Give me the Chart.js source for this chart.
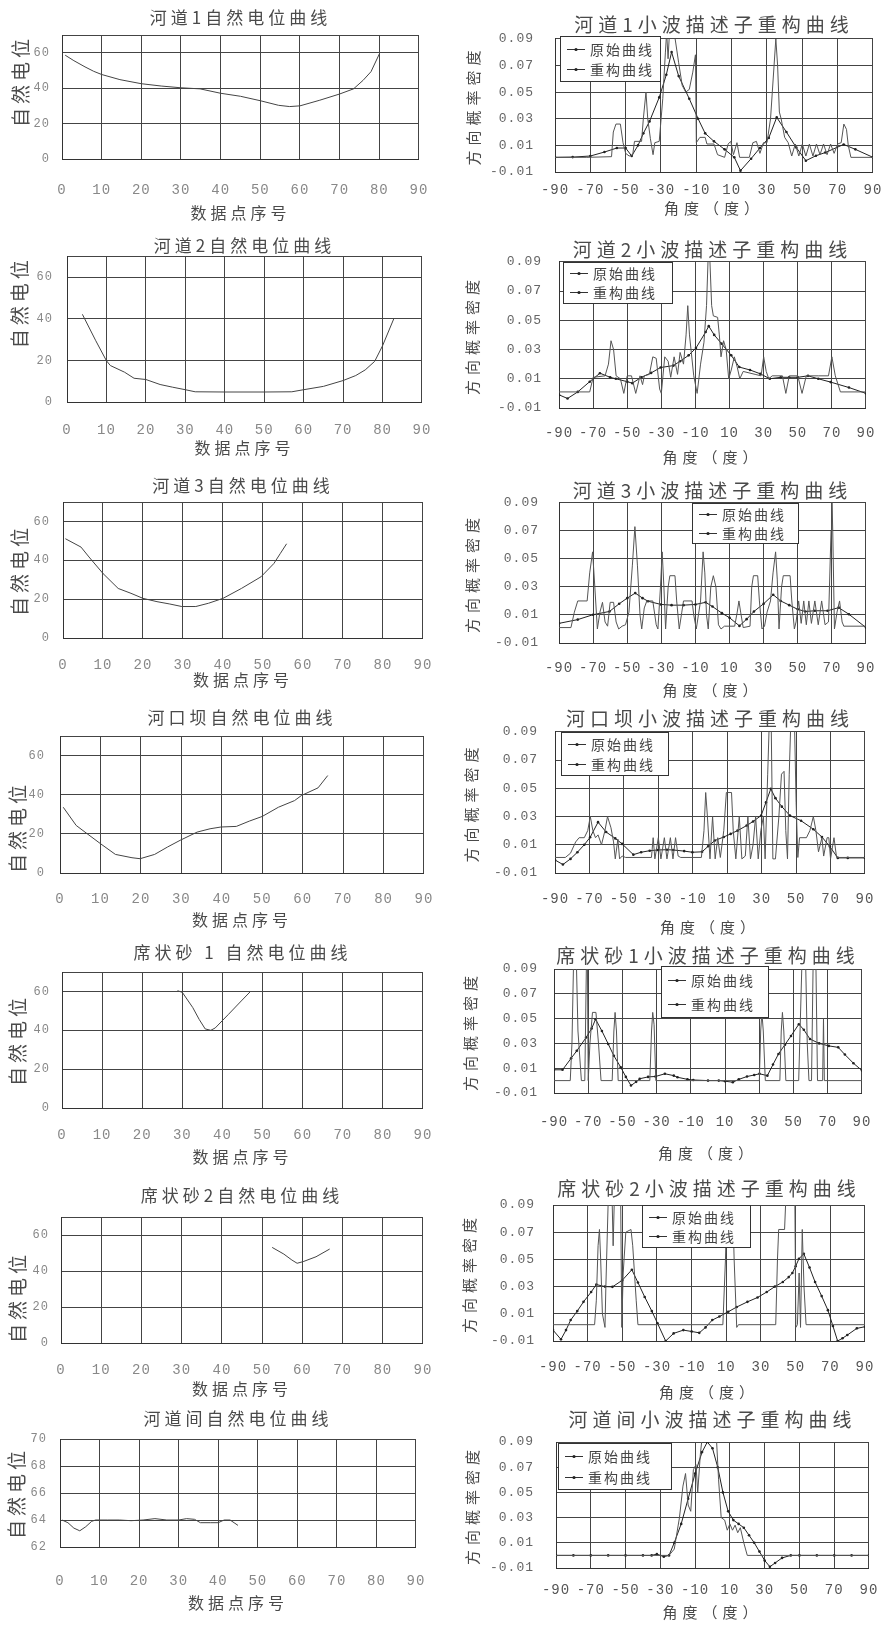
<!DOCTYPE html>
<html>
<head>
<meta charset="utf-8">
<script src="https://cdn.jsdelivr.net/npm/chart.js@4.4.1/dist/chart.umd.min.js"></script>
<style>
  html, body { margin: 0; padding: 0; background: #fff; }
  body { width: 891px; height: 1631px; position: relative; overflow: hidden; }
  canvas { position: absolute; }
</style>
</head>
<body>
<script>
const CJK = '"Noto Sans CJK SC", sans-serif';
const MONO = '"Liberation Mono", "DejaVu Sans Mono", monospace';

// ticks
const spXTicks = [0, 10, 20, 30, 40, 50, 60, 70, 80, 90];
const spXLabels = ['0', '10', '20', '30', '40', '50', '60', '70', '80', '90'];
const spYTicks = [0, 20, 40, 60, 70];
const spYLabels = ['0', '20', '40', '60', ''];
const sp7YTicks = [62, 64, 66, 68, 70];
const sp7YLabels = ['62', '64', '66', '68', '70'];
const angTicks = [-90, -70, -50, -30, -10, 10, 30, 50, 70, 90];
const angLabels = ['-90', '-70', '-50', '-30', '-10', '10', '30', '50', '70', '90'];
const denTicks = [-0.01, 0.01, 0.03, 0.05, 0.07, 0.09];
const denLabels = ['-0.01', '0.01', '0.03', '0.05', '0.07', '0.09'];

// texts
const leftTitles = ['河道1自然电位曲线', '河道2自然电位曲线', '河道3自然电位曲线', '河口坝自然电位曲线',
  '席状砂 1 自然电位曲线', '席状砂2自然电位曲线', '河道间自然电位曲线'];
const rightTitles = ['河道1小波描述子重构曲线', '河道2小波描述子重构曲线', '河道3小波描述子重构曲线',
  '河口坝小波描述子重构曲线', '席状砂1小波描述子重构曲线', '席状砂2小波描述子重构曲线', '河道间小波描述子重构曲线'];
const seriesNames = ['原始曲线', '重构曲线'];
const spYTitle = '自然电位', spXTitle = '数据点序号';
const denYTitle = '方向概率密度', angXTitle = '角度（度）';

// 自然电位曲线 (数据点序号, 自然电位)
const sp1 = [[0.8,58.6],[3,55.5],[5.8,52],[8,49.5],[10,47.7],[14.6,44.8],[20,42.5],[25,41.2],[30,40.2],[34.8,39.6],[40,37.1],[45,35.4],[50,32.9],[54.6,30.3],[57.4,29.6],[60,30],[65,33.2],[70,36.7],[73.5,39.6],[75.9,44.4],[77.9,49.3],[80,59.3]];
const sp2 = [[3.9,42.1],[7.3,29.4],[10,19.8],[11,17.5],[14.6,14.3],[17,11.4],[20,10.8],[23.6,8.4],[26.8,7.1],[30,5.9],[32.5,4.9],[40,4.8],[50,4.8],[57,4.9],[60,5.9],[65,7.5],[70,10.3],[73.2,12.7],[75.6,15.4],[78,19.5],[80,27],[82.9,40.2]];
const sp3 = [[0.6,51.1],[4.5,46.8],[6.5,41.7],[10,33.2],[13.8,25.5],[17,23],[20,20.4],[23.5,18.7],[26.7,17.5],[29.7,16.2],[33.2,16.2],[36.4,17.9],[40,20.4],[44.6,25.5],[49.5,31.5],[52.7,38.3],[54.3,43.4],[55.9,48.5]];
const sp4 = [[0.8,33.6],[4,24.3],[6.5,20.4],[10,15],[13.7,9.5],[17.8,7.8],[19.8,7.3],[23.4,9.5],[26.6,13.3],[29.7,16.7],[33.9,20.9],[37.1,22.6],[39.8,23.5],[43.6,23.8],[46.8,26.5],[50,28.9],[54,33.6],[58,37],[59.7,39.6],[63.8,43.5],[66.2,49.8]];
const sp5 = [[28.8,60.4],[30,59.5],[32.6,51.7],[34.2,45.6],[35.7,40.7],[37.1,40],[38.2,41.2],[41.5,48.2],[44.7,55.1],[46.9,59.8]];
const sp6 = [[52.5,53.1],[55.4,49.4],[57.4,46.1],[58.7,44.3],[60.2,45.2],[63.4,47.9],[66.8,52.2]];
const sp7 = [[0.5,64.0],[2,63.8],[3.5,63.4],[5,63.2],[6.5,63.5],[8,63.9],[9,64.0],[12,64.0],[15,64.0],[18,63.95],[21,64.0],[24,64.1],[27,64.0],[30,64.0],[32,64.1],[34,64.05],[35.5,63.8],[38,63.8],[40,63.8],[41.5,64.0],[43,64.0],[44,63.8],[45,63.6]];

// 小波描述子 原始曲线 (角度, 方向概率密度)
const raw1 = [[-90,0.001],[-72,0.001],[-58,0.0015],[-57,0.02],[-55.5,0.026],[-53,0.026],[-51.5,0.012],[-50,0.004],[-48,0.002],[-46,0.003],[-45,0.013],[-41,0.013],[-40,0.03],[-38.5,0.05],[-37.5,0.03],[-36,0.015],[-34.5,0.003],[-33.5,0.012],[-31,0.013],[-29,0.045],[-27.5,0.08],[-26.8,0.095],[-26,0.075],[-25.2,0.095],[-24,0.1],[-22,0.09],[-20,0.072],[-18,0.055],[-16,0.05],[-14,0.052],[-12,0.065],[-10.5,0.078],[-10,0.012],[-8,0.016],[-5,0.016],[-4,0.011],[0,0.011],[2,0.003],[6,0.001],[8,0.011],[9.5,0.013],[11,0.003],[13,0.012],[14.5,0.001],[20,0.001],[22,0.012],[24,0.013],[26,0.004],[28,0.012],[30,0.012],[32,0.03],[34,0.07],[35,0.09],[36,0.07],[37,0.035],[38,0.03],[40,0.016],[42,0.012],[44,0.002],[46,0.011],[48,0.002],[50,0.011],[52,0.002],[54,0.011],[56,0.002],[58,0.011],[60,0.003],[62,0.011],[64,0.003],[66,0.011],[68,0.004],[70,0.011],[72,0.012],[73.5,0.026],[75,0.022],[76,0.01],[77.5,0.001],[90,0.001]];
const raw2 = [[-90,0.001],[-72,0.001],[-70,0.011],[-63,0.012],[-61,0.02],[-59.5,0.036],[-58,0.03],[-56.5,0.012],[-54,0.01],[-52,0.0],[-50,0.012],[-47.5,0.012],[-45,0.0],[-42.5,0.012],[-41,0.006],[-40,0.012],[-37,0.013],[-35,0.025],[-33,0.024],[-31,0.003],[-30,0.0],[-28,0.025],[-26,0.022],[-24.5,0.011],[-22.5,0.025],[-20.5,0.013],[-19,0.028],[-17,0.02],[-15.5,0.04],[-14.5,0.06],[-13.5,0.04],[-11,0.012],[-9,0.0],[-7,0.02],[-5,0.035],[-3.5,0.06],[-2.5,0.095],[-1.5,0.09],[-0.5,0.06],[0.5,0.053],[3,0.052],[4,0.04],[5,0.025],[6.5,0.036],[8,0.03],[9.5,0.01],[11,0.016],[12.8,0.025],[14.5,0.018],[16,0.01],[18,0.015],[25,0.013],[28.5,0.012],[30,0.025],[31.5,0.015],[33,0.01],[35,0.012],[41,0.012],[43,0.0],[45,0.012],[50,0.012],[52.5,0.0],[55,0.012],[62,0.012],[68,0.012],[70,0.025],[72,0.012],[75,0.001],[90,0.001]];
const raw3 = [[-90,0.001],[-83,0.001],[-81,0.012],[-79,0.02],[-73.5,0.02],[-72,0.04],[-70.3,0.055],[-69,0.03],[-67.5,0.0],[-66,0.012],[-64.5,0.019],[-63,0.005],[-61.5,0.002],[-60,0.019],[-58,0.019],[-56.5,0.005],[-55,0.0],[-53,0.002],[-51,0.003],[-49,0.012],[-47,0.045],[-45.5,0.073],[-44,0.045],[-42.5,0.01],[-41.5,0.0],[-40,0.015],[-38.5,0.02],[-35,0.02],[-33,0.003],[-32,0.0],[-30.5,0.03],[-29.5,0.055],[-28.5,0.03],[-27.5,0.0],[-26,0.03],[-25,0.038],[-22,0.038],[-21,0.02],[-19.5,0.0],[-18,0.012],[-17,0.02],[-12,0.02],[-11,0.01],[-9.5,0.0],[-7,0.02],[-5.5,0.055],[-4.5,0.04],[-3.5,0.01],[-2.5,0.0],[-1,0.03],[0.5,0.038],[2,0.03],[3.5,0.003],[5,0.0],[7,0.002],[13,0.002],[14.5,0.012],[15.5,0.02],[16.5,0.012],[18,0.001],[22,0.002],[23,0.03],[24,0.038],[26.5,0.038],[27.5,0.02],[29,0.0],[30.5,0.002],[32,0.012],[34,0.02],[35.5,0.04],[37,0.055],[38,0.035],[39,0.0],[40.5,0.03],[41.5,0.038],[45.5,0.038],[46.5,0.02],[48,0.0],[49,0.005],[50.5,0.02],[52,0.004],[53.5,0.02],[55,0.003],[56.5,0.02],[58,0.004],[60,0.02],[62,0.003],[64,0.02],[66,0.003],[68,0.005],[69.5,0.07],[70,0.095],[70.5,0.07],[71.5,0.0],[73,0.012],[74.5,0.02],[76,0.005],[77,0.002],[90,0.002]];
const raw4 = [[-90,0.001],[-84,0.001],[-81,0.004],[-78,0.012],[-76,0.015],[-73,0.015],[-71,0.02],[-69.5,0.03],[-68,0.02],[-66.5,0.015],[-65,0.017],[-63,0.01],[-61,0.02],[-59.5,0.03],[-57.5,0.022],[-56,0.012],[-55,0.0],[-53.5,0.014],[-52.5,0.0],[-51,0.002],[-49,0.001],[-34,0.001],[-33,0.015],[-32,0.0],[-30,0.015],[-28.5,0.0],[-26.5,0.015],[-25,0.0],[-23,0.015],[-21.5,0.0],[-20,0.015],[-18.5,0.002],[-17,0.001],[-5,0.001],[-3.5,0.02],[-2.5,0.047],[-1.5,0.03],[0,0.0],[1.5,0.03],[3,0.0],[4.5,0.015],[6,0.001],[8,0.02],[9.5,0.047],[12.5,0.047],[13.5,0.02],[15,0.0],[17,0.03],[18.5,0.0],[20.5,0.002],[22,0.03],[23.5,0.0],[25,0.01],[26.5,0.03],[28,0.0],[29.5,0.02],[31,0.03],[32,0.0],[33.5,0.06],[34.5,0.1],[35.5,0.1],[36.5,0.0],[38,0.0],[40,0.03],[41.5,0.06],[43,0.062],[44,0.02],[45,0.0],[46,0.06],[47,0.1],[49,0.1],[50,0.04],[51,0.001],[52,0.015],[56,0.015],[58,0.02],[60,0.03],[61.5,0.02],[63,0.005],[65,0.015],[66,0.002],[68,0.015],[69,0.015],[70,0.0],[72,0.015],[73.5,0.001],[90,0.001]];
const raw5 = [[-90,0.0],[-80.5,0.0],[-79.5,0.03],[-78.5,0.1],[-77,0.1],[-76,0.04],[-74,0.0],[-72,0.0],[-71,0.1],[-70.5,0.1],[-70,0.0],[-69,0.03],[-67.5,0.055],[-65.5,0.055],[-64,0.03],[-62.5,0.0],[-56,0.0],[-55,0.04],[-54.3,0.055],[-53.5,0.04],[-52.5,0.0],[-34,0.0],[-33,0.04],[-32.3,0.055],[-31.5,0.045],[-30.5,0.0],[30,0.0],[30.8,0.04],[31.5,0.055],[32.3,0.04],[33.5,0.0],[42,0.0],[42.8,0.04],[43.5,0.055],[44.3,0.04],[45.5,0.0],[53,0.0],[54,0.05],[55,0.1],[57,0.1],[58,0.03],[59,0.0],[60.5,0.0],[61.5,0.1],[63,0.1],[64,0.0],[67,0.0],[67.5,0.05],[68,0.0],[90,0.0]];
const raw6 = [[-90,0.002],[-66,0.002],[-65,0.02],[-64,0.06],[-63.2,0.072],[-62.5,0.05],[-61.5,0.01],[-60,0.0],[-59.5,0.03],[-58,0.1],[-56,0.1],[-55.3,0.06],[-54.5,0.1],[-51,0.1],[-50.3,0.0],[-49.5,0.04],[-48,0.07],[-45,0.072],[-44,0.06],[-42,0.02],[-41,0.002],[8,0.002],[9.5,0.05],[10.5,0.1],[13.5,0.1],[14.5,0.05],[16,0.0],[17,0.002],[38.5,0.002],[39.5,0.05],[40.2,0.072],[43.6,0.072],[44.5,0.1],[49.5,0.1],[50.1,0.0],[51,0.002],[52,0.04],[52.8,0.0],[53.8,0.072],[54.8,0.03],[56,0.002],[90,0.002]];
const raw7 = [[-90,0.0],[-25,0.0],[-22,0.005],[-19,0.03],[-17,0.055],[-15.5,0.065],[-14,0.04],[-12.5,0.035],[-11,0.068],[-9.5,0.072],[-8.5,0.05],[-7,0.08],[-5.5,0.1],[-2,0.1],[0,0.1],[2,0.1],[3.5,0.06],[5,0.03],[7,0.028],[8.5,0.02],[10,0.025],[11.5,0.02],[13,0.024],[14.5,0.018],[16,0.022],[18,0.01],[20,0.0],[90,0.0]];

// 小波描述子 重构曲线 (角度, 方向概率密度)
const rec1 = [[-90,0.001],[-80,0.0012],[-70,0.002],[-62,0.005],[-55,0.008],[-50,0.008],[-46.6,0.002],[-43,0.01],[-40,0.019],[-36.5,0.028],[-31,0.046],[-27,0.063],[-24,0.08],[-20,0.062],[-14,0.045],[-9,0.03],[-5,0.019],[0,0.013],[6,0.007],[11.5,0.001],[15,-0.009],[21,0.0],[26,0.008],[31,0.0156],[35.5,0.031],[41,0.02],[46.6,0.0083],[52,-0.0015],[57.7,0.0022],[63,0.0046],[73.4,0.0107],[80,0.007],[90,0.001]];
const rec2 = [[-90,-0.001],[-85,-0.0035],[-79,0.001],[-72,0.008],[-66,0.0138],[-60,0.011],[-56.7,0.01],[-50,0.008],[-47,0.007],[-41.7,0.011],[-36,0.014],[-30.4,0.0177],[-22.9,0.019],[-19,0.022],[-14,0.026],[-9.7,0.031],[-4,0.042],[-2.2,0.046],[1,0.04],[5.3,0.034],[11,0.026],[15.7,0.018],[22,0.016],[28,0.0134],[33.6,0.01],[40,0.011],[44.9,0.011],[50,0.011],[56,0.012],[62,0.01],[69.3,0.0077],[80,0.004],[90,0.0]];
const rec3 = [[-90,0.004],[-79,0.0067],[-70,0.0102],[-60.4,0.0125],[-54.7,0.018],[-50,0.022],[-45.3,0.0256],[-41,0.022],[-37.8,0.0198],[-30.2,0.0175],[-24,0.017],[-17,0.017],[-10,0.0175],[-4,0.019],[0,0.016],[5.5,0.0113],[10,0.008],[15.8,0.0022],[20,0.007],[24.3,0.0125],[30,0.018],[35.6,0.0244],[40,0.02],[45,0.017],[50,0.014],[54.4,0.0125],[60,0.013],[67.5,0.013],[74,0.0152],[80,0.0105],[90,0.001]];
const rec4 = [[-90,-0.0008],[-85.4,-0.004],[-81,0.0],[-77,0.0047],[-73,0.01],[-69.6,0.0153],[-65,0.026],[-60.3,0.019],[-55,0.0145],[-51,0.0106],[-44.5,0.003],[-40,0.0047],[-35,0.0058],[-30.6,0.0063],[-25,0.0065],[-21.3,0.0063],[-15,0.0055],[-10.2,0.0047],[-4.6,0.005],[-1,0.009],[2.8,0.013],[8,0.0155],[12,0.0177],[16,0.02],[21.3,0.0236],[25,0.0265],[29.7,0.0307],[32.5,0.04],[35.3,0.0496],[38,0.043],[41.7,0.037],[46.4,0.0307],[52.9,0.027],[60,0.021],[65,0.0155],[69.6,0.0087],[74.2,0.0007],[80,0.0007],[90,0.0007]];
const rec5 = [[-90,0.0087],[-85,0.0087],[-80,0.018],[-76.7,0.024],[-71.2,0.0348],[-68,0.042],[-65.7,0.0495],[-62,0.04],[-58.3,0.0295],[-55,0.02],[-51,0.0108],[-48,0.003],[-45,-0.004],[-42,-0.001],[-39.9,0.0015],[-35,0.003],[-30.7,0.0033],[-25.2,0.0055],[-20,0.004],[-17.8,0.0027],[-12,0.001],[-8.6,0.0005],[0,0.0],[6.3,0.0],[10,-0.0005],[14.5,-0.0013],[18,0.001],[22.8,0.0033],[27,0.0045],[30.1,0.0055],[34.7,0.004],[38,0.013],[41.2,0.0215],[45,0.029],[48.5,0.036],[53.1,0.0455],[56,0.041],[59.6,0.0335],[65,0.03],[70.6,0.028],[76.1,0.0268],[80,0.021],[85,0.014],[90,0.0081]];
const rec6 = [[-90,-0.002],[-85.4,-0.0088],[-82.5,-0.002],[-79.8,0.0054],[-76,0.012],[-72.4,0.0188],[-68,0.026],[-65,0.0315],[-60,0.03],[-55.7,0.0298],[-50.1,0.0346],[-44.5,0.0424],[-41,0.033],[-37.1,0.0224],[-33,0.012],[-29.7,0.003],[-25,-0.01],[-20.4,-0.0044],[-14.8,-0.002],[-10,-0.003],[-5.6,-0.004],[-2,0.0],[1.9,0.0054],[6,0.008],[11.1,0.0115],[16,0.015],[22.2,0.0188],[28,0.022],[33.3,0.026],[38,0.03],[42.6,0.0334],[46,0.037],[48.1,0.04],[50,0.045],[51.9,0.0505],[54.7,0.0541],[58,0.044],[61.2,0.0334],[65,0.023],[68.6,0.0127],[71.5,0.001],[74.2,-0.01],[77,-0.008],[79.8,-0.0056],[85.3,-0.0007],[90,0.0005]];
const rec7 = [[-90,0.0],[-80,0.0],[-70,0.0],[-60,0.0],[-50,0.0],[-40,0.0],[-35,0.0],[-32,0.001],[-28,-0.001],[-25,0.0],[-22,0.01],[-18,0.025],[-14,0.045],[-10,0.065],[-6,0.082],[-3,0.09],[0,0.085],[3,0.07],[6,0.05],[9,0.035],[12,0.028],[15,0.025],[18,0.022],[21,0.016],[24,0.01],[27,0.003],[30,-0.004],[33,-0.009],[36,-0.006],[40,-0.002],[45,0.0],[50,0.0],[60,0.0],[70,0.0],[80,0.0],[90,0.0]];

// page positions of each plot area (px)
const leftBoxes = [
  { t: 35, b: 159, l: 62, r: 441, ty: 17, xty: 190, xtt: 213, ytx: 21, ypad: 12, yalign: 'end' },
  { t: 256, b: 402, l: 67, r: 436, ty: 245, xty: 430, xtt: 448, ytx: 20, ypad: 14, yalign: 'end' },
  { t: 502, b: 638, l: 63, r: 434, ty: 485, xty: 665, xtt: 680, ytx: 20, ypad: 13, yalign: 'center' },
  { t: 736, b: 873, l: 60, r: 432, ty: 717, xty: 899, xtt: 920, ytx: 18, ypad: 15, yalign: 'start' },
  { t: 972, b: 1108, l: 62, r: 434, ty: 952, xty: 1135, xtt: 1157, ytx: 18, ypad: 12, yalign: 'center' },
  { t: 1217, b: 1343, l: 61, r: 433, ty: 1195, xty: 1370, xtt: 1389, ytx: 18, ypad: 12, yalign: 'start' },
  { t: 1439, b: 1547, l: 60, r: 440, ty: 1418, xty: 1581, xtt: 1603, ytx: 17, ypad: 13, yalign: 'center' }
];
const rightBoxes = [
  { t: 35, b: 172, l: 555, r: 880, ty: 21, xty: 190, xtt: 208, ytx: 473, ypad: 21, lg: { x: 560, y: 36, w: 100, h: 45 } },
  { t: 260, b: 408, l: 559, r: 878, ty: 248, xty: 433, xtt: 457, ytx: 472, ypad: 17, lg: { x: 563, y: 262, w: 109, h: 41 } },
  { t: 498, b: 643, l: 559, r: 878, ty: 488, xty: 668, xtt: 690, ytx: 472, ypad: 20, lg: { x: 692, y: 503, w: 106, h: 40 } },
  { t: 731, b: 873, l: 555, r: 878, ty: 718, xty: 899, xtt: 927, ytx: 471, ypad: 17, lg: { x: 561, y: 732, w: 107, h: 43 } },
  { t: 969, b: 1093, l: 554, r: 880, ty: 955, xty: 1122, xtt: 1153, ytx: 470, ypad: 16, lg: { x: 661, y: 966, w: 107, h: 51 } },
  { t: 1205, b: 1341, l: 553, r: 877, ty: 1188, xty: 1367, xtt: 1392, ytx: 469, ypad: 18, lg: { x: 642, y: 1205, w: 108, h: 42 } },
  { t: 1442, b: 1568, l: 556, r: 882, ty: 1419, xty: 1590, xtt: 1612, ytx: 472, ypad: 22, lg: { x: 558, y: 1443, w: 113, h: 46 } }
];

const pts = a => a.map(p => ({ x: p[0], y: p[1] }));

// letter spacing: titles before everything, tick labels (z:1) after the datasets
const spacing = {
  id: 'spacing',
  beforeDraw(chart, args, o) { chart.ctx.letterSpacing = o.title + 'px'; },
  afterDatasetsDraw(chart, args, o) { chart.ctx.letterSpacing = o.ticks + 'px'; },
  afterDraw(chart) { chart.ctx.letterSpacing = '0px'; }
};

// boxed legend inside the plot
const boxLegend = {
  id: 'boxLegend',
  afterDraw(chart, args, o) {
    const ctx = chart.ctx;
    ctx.save();
    ctx.letterSpacing = '2px';
    ctx.fillStyle = '#fff';
    ctx.fillRect(o.x, o.y, o.w, o.h);
    ctx.strokeStyle = '#333';
    ctx.lineWidth = 1;
    ctx.strokeRect(o.x + 0.5, o.y + 0.5, o.w, o.h);
    chart.data.datasets.forEach((ds, i) => {
      const yy = Math.round(o.y + o.h * (0.28 + 0.46 * i)) + 0.5;
      ctx.strokeStyle = '#333';
      ctx.beginPath(); ctx.moveTo(o.x + 7, yy); ctx.lineTo(o.x + 25, yy); ctx.stroke();
      ctx.fillStyle = '#222';
      ctx.beginPath(); ctx.arc(o.x + 16, yy, 1.6, 0, Math.PI * 2); ctx.fill();
      ctx.fillStyle = '#444';
      ctx.font = '14px ' + CJK;
      ctx.textBaseline = 'middle';
      ctx.fillText(ds.label, o.x + 30, yy);
    });
    ctx.restore();
  }
};

function drawChart(B, left, title, datasets, ax) {
  const CL = left ? 0 : 445, CW = left ? 450 : 446;
  const ts = left ? 17 : 19, yts = left ? 19 : 15, xts = left ? 16 : 15, tks = 14;
  const yks = left ? 12 : 13;
  const lh = ts * 1.2;
  let CT = Math.round(B.ty - lh / 2);
  if (B.t - CT - lh < 0) CT = Math.floor(B.t - lh);
  const pb = B.t - CT - lh;
  const bottom = B.xtt + xts * 0.6;
  const CH = Math.ceil(bottom - CT);
  const xH = CT + CH - B.b;
  const yW = B.l - CL;

  const c = document.createElement('canvas');
  c.width = CW; c.height = CH;
  c.style.left = CL + 'px'; c.style.top = CT + 'px';
  document.body.appendChild(c);

  const cjk = (size) => ({ family: CJK, size: size, weight: 'normal', lineHeight: 1.2 });
  new Chart(c, {
    type: 'line',
    data: { datasets: datasets },
    options: {
      animation: false,
      responsive: false,
      events: [],
      layout: { autoPadding: false, padding: { left: 0, top: 0, bottom: 0, right: CL + CW - B.r } },
      plugins: {
        legend: { display: false },
        tooltip: { enabled: false },
        title: { display: true, text: title, fullSize: false, color: '#4a4a4a', font: cjk(ts), padding: { top: 0, bottom: pb } },
        spacing: { title: left ? 4 : 5, ticks: 1 },
        boxLegend: B.lg ? { x: B.lg.x - CL, y: B.lg.y - CT, w: B.lg.w, h: B.lg.h } : false
      },
      scales: {
        x: {
          type: 'linear',
          min: ax.xt[0], max: ax.xt[ax.xt.length - 1],
          afterBuildTicks: s => { s.ticks = ax.xt.map(v => ({ value: v })); },
          afterFit: s => { s.height = xH; },
          grid: { color: '#444', lineWidth: 1, drawTicks: false },
          border: { color: '#333', width: 1 },
          ticks: {
            autoSkip: false, maxRotation: 0, minRotation: 0, z: 1,
            padding: B.xty - B.b - tks * 0.6,
            color: left ? '#888' : '#555',
            font: { family: MONO, size: tks, lineHeight: 1.2 },
            callback: (v, i) => ax.xl[i]
          },
          title: { display: true, text: ax.xTitle, color: '#4a4a4a', font: cjk(xts), padding: { top: 0, bottom: 0 } }
        },
        y: {
          min: ax.yt[0], max: ax.yt[ax.yt.length - 1],
          afterBuildTicks: s => { s.ticks = ax.yt.map(v => ({ value: v })); },
          afterFit: s => { s.width = yW; },
          grid: { color: '#444', lineWidth: 1, drawTicks: false },
          border: { color: '#333', width: 1 },
          ticks: {
            autoSkip: false, z: 1,
            padding: B.ypad,
            color: left ? '#888' : '#666',
            font: { family: MONO, size: yks, lineHeight: 1.2 },
            callback: (v, i) => ax.yl[i]
          },
          title: {
            display: true, text: ax.yTitle, color: '#4a4a4a', font: cjk(yts),
            align: B.yalign || 'center',
            padding: { top: B.ytx - CL - yts * 0.6, bottom: 0 }
          }
        }
      }
    },
    plugins: [spacing, boxLegend]
  });
}

const spSeries = [sp1, sp2, sp3, sp4, sp5, sp6, sp7];
const rawSeries = [raw1, raw2, raw3, raw4, raw5, raw6, raw7];
const recSeries = [rec1, rec2, rec3, rec4, rec5, rec6, rec7];

spSeries.forEach((s, i) => {
  const low = i === 6;
  drawChart(leftBoxes[i], true, leftTitles[i], [{
    data: pts(s), borderColor: '#444', borderWidth: 1, pointRadius: 0, tension: 0
  }], {
    xt: spXTicks, xl: spXLabels,
    yt: low ? sp7YTicks : spYTicks, yl: low ? sp7YLabels : spYLabels,
    xTitle: spXTitle, yTitle: spYTitle
  });
});

rawSeries.forEach((s, i) => {
  drawChart(rightBoxes[i], false, rightTitles[i], [
    { label: seriesNames[0], data: pts(s), borderColor: '#555', borderWidth: 1, pointRadius: 0, tension: 0 },
    { label: seriesNames[1], data: pts(recSeries[i]), borderColor: '#222', borderWidth: 1,
      pointRadius: 1.3, pointBorderWidth: 0, pointBackgroundColor: '#222', tension: 0 }
  ], {
    xt: angTicks, xl: angLabels, yt: denTicks, yl: denLabels,
    xTitle: angXTitle, yTitle: denYTitle
  });
});
</script>
</body>
</html>
